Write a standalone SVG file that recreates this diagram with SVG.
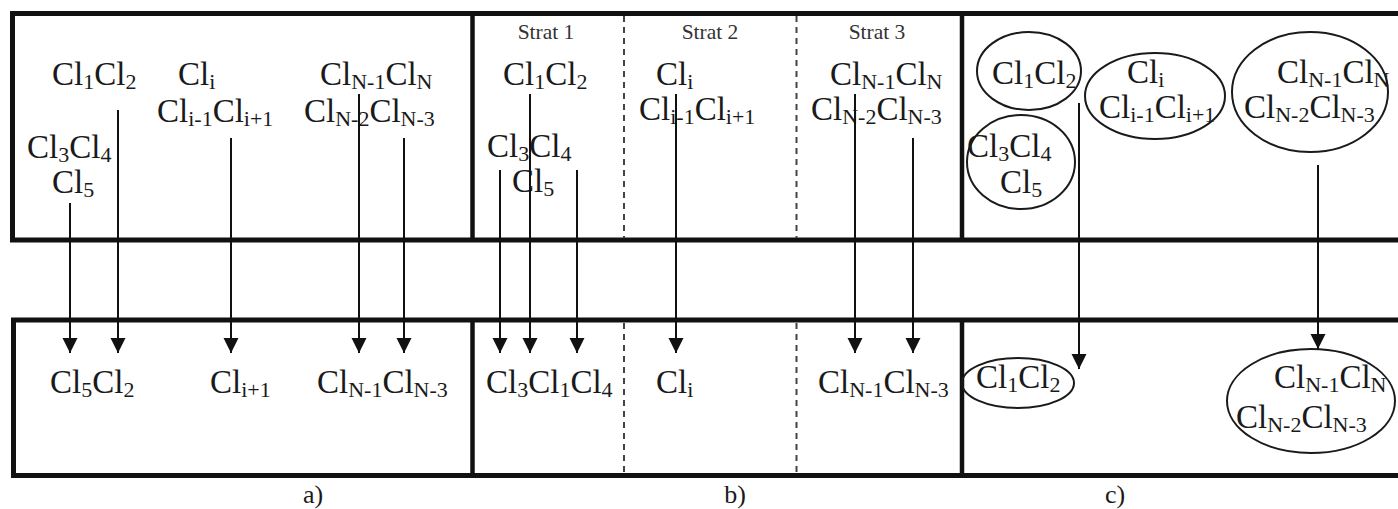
<svg xmlns="http://www.w3.org/2000/svg" width="1398" height="509" viewBox="0 0 1398 509">
  <style>
    .frame { fill: none; stroke: #111; stroke-width: 5; }
    .div { stroke: #111; stroke-width: 4.5; }
    .dash { stroke: #444; stroke-width: 2; stroke-dasharray: 6 5; }
    .t { font-family: "Liberation Serif", "Times New Roman", serif; font-size: 33px; fill: #1a1a1a; }
    .s { font-size: 22px; }
    .strat { font-family: "Liberation Serif", "Times New Roman", serif; font-size: 21.5px; fill: #333; text-anchor: middle; }
    .cap { font-family: "Liberation Serif", "Times New Roman", serif; font-size: 26px; fill: #1a1a1a; text-anchor: middle; }
    .ell { fill: none; stroke: #1a1a1a; stroke-width: 2; }
    .arr { stroke: #111; stroke-width: 2; fill: none; marker-end: url(#head); }
  </style>
  <defs>
    <marker id="head" markerUnits="userSpaceOnUse" markerWidth="16" markerHeight="16" refX="15" refY="7.5" orient="auto">
      <path d="M0,0 L15,7.5 L0,15 Z" fill="#111"/>
    </marker>
  </defs>

  <rect width="1398" height="509" fill="#fff"/>

  <!-- frames -->
  <g id="frames">
    <rect class="frame" x="12.5" y="13.5" width="1400" height="226.5"/>
    <rect class="frame" x="13.5" y="320" width="1400" height="155.5"/>
    <line class="div" x1="472.5" y1="13" x2="472.5" y2="240"/>
    <line class="div" x1="962" y1="13" x2="962" y2="240"/>
    <line class="div" x1="472.5" y1="320" x2="472.5" y2="476"/>
    <line class="div" x1="962" y1="320" x2="962" y2="476"/>
    <line class="dash" x1="624" y1="16" x2="624" y2="238"/>
    <line class="dash" x1="796.5" y1="16" x2="796.5" y2="238"/>
    <line class="dash" x1="624" y1="323" x2="624" y2="473"/>
    <line class="dash" x1="796.5" y1="323" x2="796.5" y2="473"/>
  </g>

  <!-- panel a: source -->
  <g id="a-top">
    <text class="t" x="52" y="85">Cl<tspan class="s" dy="4">1</tspan><tspan dy="-4">Cl</tspan><tspan class="s" dy="4">2</tspan></text>
    <text class="t" x="178" y="85">Cl<tspan class="s" dy="4">i</tspan></text>
    <text class="t" x="157" y="122">Cl<tspan class="s" dy="4">i-1</tspan><tspan dy="-4">Cl</tspan><tspan class="s" dy="4">i+1</tspan></text>
    <text class="t" x="320" y="85">Cl<tspan class="s" dy="4">N-1</tspan><tspan dy="-4">Cl</tspan><tspan class="s" dy="4">N</tspan></text>
    <text class="t" x="304" y="122">Cl<tspan class="s" dy="4">N-2</tspan><tspan dy="-4">Cl</tspan><tspan class="s" dy="4">N-3</tspan></text>
    <text class="t" x="27" y="158">Cl<tspan class="s" dy="4">3</tspan><tspan dy="-4">Cl</tspan><tspan class="s" dy="4">4</tspan></text>
    <text class="t" x="52" y="193">Cl<tspan class="s" dy="4">5</tspan></text>
  </g>
  <g id="a-bottom">
    <text class="t" x="50" y="393">Cl<tspan class="s" dy="4">5</tspan><tspan dy="-4">Cl</tspan><tspan class="s" dy="4">2</tspan></text>
    <text class="t" x="210" y="393">Cl<tspan class="s" dy="4">i+1</tspan></text>
    <text class="t" x="317" y="393">Cl<tspan class="s" dy="4">N-1</tspan><tspan dy="-4">Cl</tspan><tspan class="s" dy="4">N-3</tspan></text>
  </g>

  <!-- panel b: stratified -->
  <g id="b-top">
    <text class="strat" x="546" y="39">Strat 1</text>
    <text class="strat" x="710" y="39">Strat 2</text>
    <text class="strat" x="877" y="39">Strat 3</text>
    <text class="t" x="503" y="85">Cl<tspan class="s" dy="4">1</tspan><tspan dy="-4">Cl</tspan><tspan class="s" dy="4">2</tspan></text>
    <text class="t" x="656" y="85">Cl<tspan class="s" dy="4">i</tspan></text>
    <text class="t" x="639" y="120">Cl<tspan class="s" dy="4">i-1</tspan><tspan dy="-4">Cl</tspan><tspan class="s" dy="4">i+1</tspan></text>
    <text class="t" x="830" y="85">Cl<tspan class="s" dy="4">N-1</tspan><tspan dy="-4">Cl</tspan><tspan class="s" dy="4">N</tspan></text>
    <text class="t" x="811" y="120">Cl<tspan class="s" dy="4">N-2</tspan><tspan dy="-4">Cl</tspan><tspan class="s" dy="4">N-3</tspan></text>
    <text class="t" x="487" y="157">Cl<tspan class="s" dy="4">3</tspan><tspan dy="-4">Cl</tspan><tspan class="s" dy="4">4</tspan></text>
    <text class="t" x="512" y="192">Cl<tspan class="s" dy="4">5</tspan></text>
  </g>
  <g id="b-bottom">
    <text class="t" x="486" y="393">Cl<tspan class="s" dy="4">3</tspan><tspan dy="-4">Cl</tspan><tspan class="s" dy="4">1</tspan><tspan dy="-4">Cl</tspan><tspan class="s" dy="4">4</tspan></text>
    <text class="t" x="656" y="393">Cl<tspan class="s" dy="4">i</tspan></text>
    <text class="t" x="818" y="393">Cl<tspan class="s" dy="4">N-1</tspan><tspan dy="-4">Cl</tspan><tspan class="s" dy="4">N-3</tspan></text>
  </g>

  <!-- panel c: clusters -->
  <g id="c-top">
    <ellipse class="ell" cx="1029" cy="71" rx="52" ry="39"/>
    <text class="t" x="992" y="84">Cl<tspan class="s" dy="4">1</tspan><tspan dy="-4">Cl</tspan><tspan class="s" dy="4">2</tspan></text>
    <ellipse class="ell" cx="1155" cy="96" rx="70" ry="43"/>
    <text class="t" x="1127" y="83">Cl<tspan class="s" dy="4">i</tspan></text>
    <text class="t" x="1099" y="118">Cl<tspan class="s" dy="4">i-1</tspan><tspan dy="-4">Cl</tspan><tspan class="s" dy="4">i+1</tspan></text>
    <ellipse class="ell" cx="1310" cy="92" rx="78" ry="60"/>
    <text class="t" x="1277" y="83">Cl<tspan class="s" dy="4">N-1</tspan><tspan dy="-4">Cl</tspan><tspan class="s" dy="4">N</tspan></text>
    <text class="t" x="1244" y="118">Cl<tspan class="s" dy="4">N-2</tspan><tspan dy="-4">Cl</tspan><tspan class="s" dy="4">N-3</tspan></text>
    <ellipse class="ell" cx="1021" cy="162" rx="54" ry="47"/>
    <text class="t" x="967" y="157">Cl<tspan class="s" dy="4">3</tspan><tspan dy="-4">Cl</tspan><tspan class="s" dy="4">4</tspan></text>
    <text class="t" x="1000" y="193">Cl<tspan class="s" dy="4">5</tspan></text>
  </g>
  <g id="c-bottom">
    <ellipse class="ell" cx="1018" cy="383" rx="56" ry="25"/>
    <text class="t" x="976" y="388">Cl<tspan class="s" dy="4">1</tspan><tspan dy="-4">Cl</tspan><tspan class="s" dy="4">2</tspan></text>
    <ellipse class="ell" cx="1311" cy="401" rx="84" ry="52"/>
    <text class="t" x="1274" y="388">Cl<tspan class="s" dy="4">N-1</tspan><tspan dy="-4">Cl</tspan><tspan class="s" dy="4">N</tspan></text>
    <text class="t" x="1236" y="428">Cl<tspan class="s" dy="4">N-2</tspan><tspan dy="-4">Cl</tspan><tspan class="s" dy="4">N-3</tspan></text>
  </g>

  <!-- connectors -->
  <g id="connectors">
    <line class="arr" x1="70" y1="203" x2="70" y2="353"/>
    <line class="arr" x1="118" y1="110" x2="118" y2="353"/>
    <line class="arr" x1="231" y1="138" x2="231" y2="353"/>
    <line class="arr" x1="359" y1="94" x2="359" y2="353"/>
    <line class="arr" x1="404" y1="138" x2="404" y2="353"/>

    <line class="arr" x1="500" y1="170" x2="500" y2="353"/>
    <line class="arr" x1="530" y1="94" x2="530" y2="353"/>
    <line class="arr" x1="577" y1="170" x2="577" y2="353"/>
    <line class="arr" x1="676" y1="94" x2="676" y2="353"/>
    <line class="arr" x1="855" y1="94" x2="855" y2="353"/>
    <line class="arr" x1="913" y1="138" x2="913" y2="353"/>

    <line class="arr" x1="1079" y1="103" x2="1079" y2="369"/>
    <line class="arr" x1="1318" y1="165" x2="1318" y2="349"/>
  </g>

  <!-- captions -->
  <g id="captions">
    <text class="cap" x="313" y="503">a)</text>
    <text class="cap" x="735" y="503">b)</text>
    <text class="cap" x="1115" y="503">c)</text>
  </g>
</svg>
